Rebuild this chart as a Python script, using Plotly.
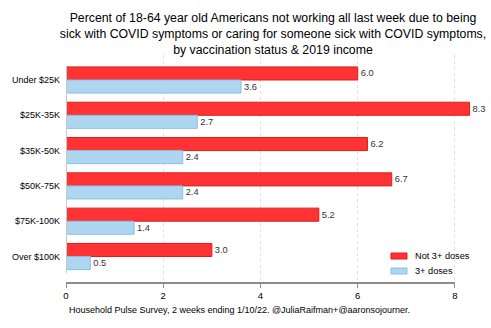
import plotly.graph_objects as go

categories = ["Under $25K", "$25K-35K", "$35K-50K", "$50K-75K", "$75K-100K", "Over $100K"]
not_boosted = [6.0, 8.3, 6.2, 6.7, 5.2, 3.0]
boosted = [3.6, 2.7, 2.4, 2.4, 1.4, 0.5]
series_names = ["Not 3+ doses", "3+ doses"]
x_ticks = [0, 2, 4, 6, 8]

W, H = 491, 328
FONT = "Liberation Sans, Arial, sans-serif"
RED, RED_LINE = "#FF3333", "#D91E1E"
BLUE, BLUE_LINE = "#AED6F1", "#86C0EA"

top, bottom_plot, axis_y = 55, 280, 283
left = 66
px_per_unit = (455 - 66) / 8.0
x_max = 8.7
right = left + x_max * px_per_unit


def pxx(px):
    return (px - left) / (right - left)


def pxy(py):
    return (axis_y - py) / (axis_y - top)


fig = go.Figure()
for vals, name, col, lcol in [(not_boosted, series_names[0], RED, RED_LINE),
                              (boosted, series_names[1], BLUE, BLUE_LINE)]:
    fig.add_trace(go.Bar(
        y=categories, x=vals, name=name, orientation="h",
        marker=dict(color=col, line=dict(color=lcol, width=1)),
        text=[f"{v:.1f}" for v in vals], textposition="outside",
        textfont=dict(size=9.3, color="#333333", family=FONT), cliponaxis=False,
        showlegend=False,
    ))

fig.update_layout(
    width=W, height=H,
    margin=dict(l=left, r=W - right, t=top, b=H - axis_y, autoexpand=False),
    paper_bgcolor="white", plot_bgcolor="white",
    barmode="group", bargap=0.26, bargroupgap=0,
    font=dict(family=FONT, color="#000000"),
    title=dict(
        text="Percent of 18-64 year old Americans not working all last week due to being<br>"
             "sick with COVID symptoms or caring for someone sick with COVID symptoms,<br>"
             "by vaccination status & 2019 income",
        x=273 / W, xanchor="center", xref="container",
        y=1 - 22 / H, yanchor="top", yref="container",
        font=dict(size=12.3, family=FONT, color="#000000"),
    ),
    xaxis=dict(
        range=[0, x_max], tickvals=x_ticks, ticktext=[str(t) for t in x_ticks],
        showgrid=True, gridcolor="#E0E0E0", griddash="dot", gridwidth=1,
        zeroline=False, showline=False,
        ticks="outside", ticklen=4, tickcolor="#8C8C8C", tickwidth=1,
        tickfont=dict(size=9.5, color="#000000"),
        anchor="free", position=0, automargin=False,
    ),
    yaxis=dict(
        categoryorder="array", categoryarray=categories,
        range=[5.666, -0.708], domain=[(axis_y - bottom_plot) / (axis_y - top), 1],
        showgrid=False, zeroline=False, showline=False, ticks="",
        ticklabelstandoff=5, automargin=False,
        tickfont=dict(size=9, color="#000000"),
    ),
    showlegend=False,
)

# x-axis line from 0 to 8
fig.add_shape(type="line", xref="x", yref="paper", x0=x_ticks[0], x1=x_ticks[-1], y0=0, y1=0,
              line=dict(color="#8C8C8C", width=2), layer="above")
# y-axis line (spans the bar region)
fig.add_shape(type="line", xref="x", yref="y", x0=0, x1=0, y0=-0.40, y1=5.47,
              line=dict(color="#C8C8C8", width=2), layer="above")

# custom legend
for i, (name, col, lcol) in enumerate([(series_names[0], RED, RED_LINE),
                                        (series_names[1], BLUE, BLUE_LINE)]):
    cy = 256 + 15 * i
    fig.add_shape(type="rect", xref="paper", yref="paper",
                  x0=pxx(391), x1=pxx(407), y0=pxy(cy - 3), y1=pxy(cy + 3),
                  fillcolor=col, line=dict(color=lcol, width=1))
    fig.add_annotation(text=name, xref="paper", yref="paper", x=pxx(413), y=pxy(cy),
                       xanchor="left", yanchor="middle", showarrow=False,
                       font=dict(size=9.2, color="#000000", family=FONT))

fig.add_annotation(
    text="Household Pulse Survey, 2 weeks ending 1/10/22. @JuliaRaifman+@aaronsojourner.",
    xref="paper", yref="paper", x=pxx(67), y=pxy(310),
    xanchor="left", yanchor="middle",
    showarrow=False, font=dict(size=9, color="#000000", family=FONT),
)

fig.write_html("out.html")
